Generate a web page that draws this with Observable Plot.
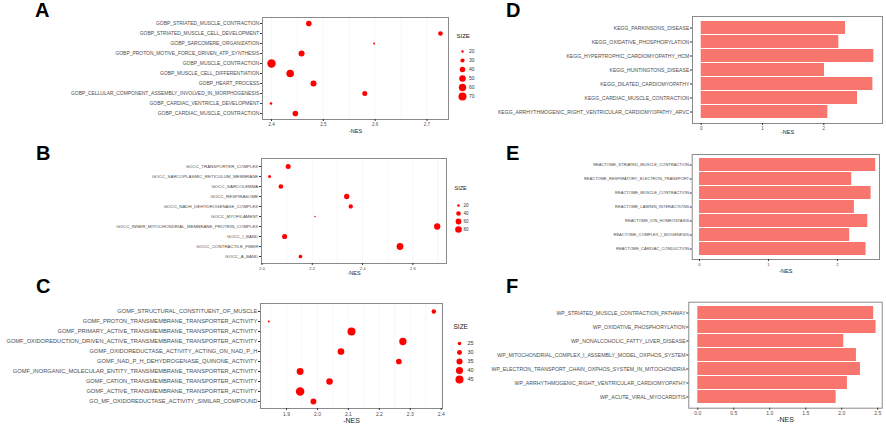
<!DOCTYPE html>
<html><head><meta charset="utf-8">
<script src="https://cdn.jsdelivr.net/npm/d3@7"></script>
<script src="https://cdn.jsdelivr.net/npm/@observablehq/plot@0.6"></script>
<style>
html,body{margin:0;padding:0;background:#fff;width:886px;height:426px;overflow:hidden;}
#root{position:relative;width:886px;height:426px;}
.pl{position:absolute;}
.lt{position:absolute;font:bold 20px "Liberation Sans",Arial,sans-serif;line-height:20px;color:#000;}
</style></head>
<body><div id="root"></div>
<script>
// ---------- DATA ----------
const aTerms = ["GOBP_STRIATED_MUSCLE_CONTRACTION","GOBP_STRIATED_MUSCLE_CELL_DEVELOPMENT","GOBP_SARCOMERE_ORGANIZATION","GOBP_PROTON_MOTIVE_FORCE_DRIVEN_ATP_SYNTHESIS","GOBP_MUSCLE_CONTRACTION","GOBP_MUSCLE_CELL_DIFFERENTIATION","GOBP_HEART_PROCESS","GOBP_CELLULAR_COMPONENT_ASSEMBLY_INVOLVED_IN_MORPHOGENESIS","GOBP_CARDIAC_VENTRICLE_DEVELOPMENT","GOBP_CARDIAC_MUSCLE_CONTRACTION"];
const aNes = [2.472, 2.726, 2.598, 2.458, 2.400, 2.436, 2.481, 2.580, 2.399, 2.446];
const aSize = [41, 33, 18, 45, 77, 64, 45, 36, 21, 41];
const aLegend = [20, 30, 40, 50, 60, 70];
const aTicks = [2.4, 2.5, 2.6, 2.7];

const bTerms = ["GOCC_TRANSPORTER_COMPLEX","GOCC_SARCOPLASMIC_RETICULUM_MEMBRANE","GOCC_SARCOLEMMA","GOCC_RESPIRASOME","GOCC_NADH_DEHYDROGENASE_COMPLEX","GOCC_MYOFILAMENT","GOCC_INNER_MITOCHONDRIAL_MEMBRANE_PROTEIN_COMPLEX","GOCC_I_BAND","GOCC_CONTRACTILE_FIBER","GOCC_A_BAND"];
const bNes = [2.104, 2.030, 2.075, 2.337, 2.353, 2.211, 2.697, 2.090, 2.549, 2.153];
const bSize = [46, 23, 41, 51, 36, 14, 72, 48, 85, 29];
const bLegend = [20, 40, 60, 80];
const bTicks = [2.0, 2.2, 2.4, 2.6];

const cTerms = ["GOMF_STRUCTURAL_CONSTITUENT_OF_MUSCLE","GOMF_PROTON_TRANSMEMBRANE_TRANSPORTER_ACTIVITY","GOMF_PRIMARY_ACTIVE_TRANSMEMBRANE_TRANSPORTER_ACTIVITY","GOMF_OXIDOREDUCTION_DRIVEN_ACTIVE_TRANSMEMBRANE_TRANSPORTER_ACTIVITY","GOMF_OXIDOREDUCTASE_ACTIVITY_ACTING_ON_NAD_P_H","GOMF_NAD_P_H_DEHYDROGENASE_QUINONE_ACTIVITY","GOMF_INORGANIC_MOLECULAR_ENTITY_TRANSMEMBRANE_TRANSPORTER_ACTIVITY","GOMF_CATION_TRANSMEMBRANE_TRANSPORTER_ACTIVITY","GOMF_ACTIVE_TRANSMEMBRANE_TRANSPORTER_ACTIVITY","GO_MF_OXIDOREDUCTASE_ACTIVITY_SIMILAR_COMPOUND"];
const cNes = [2.376, 1.843, 2.110, 2.276, 2.076, 2.263, 1.944, 2.039, 1.944, 1.987];
const cSize = [28, 20, 45, 41, 38, 33, 39, 37, 48, 34];
const cLegend = [25, 30, 35, 40, 45];
const cTicks = [1.9, 2.0, 2.1, 2.2, 2.3, 2.4];

const dTerms = ["KEGG_PARKINSONS_DISEASE","KEGG_OXIDATIVE_PHOSPHORYLATION","KEGG_HYPERTROPHIC_CARDIOMYOPATHY_HCM","KEGG_HUNTINGTONS_DISEASE","KEGG_DILATED_CARDIOMYOPATHY","KEGG_CARDIAC_MUSCLE_CONTRACTION","KEGG_ARRHYTHMOGENIC_RIGHT_VENTRICULAR_CARDIOMYOPATHY_ARVC"];
const dNes = [2.354, 2.245, 2.816, 2.011, 2.800, 2.550, 2.066];
const dTicks = [0, 1, 2];

const eTerms = ["REACTOME_STRIATED_MUSCLE_CONTRACTION","REACTOME_RESPIRATORY_ELECTRON_TRANSPORT","REACTOME_MUSCLE_CONTRACTION","REACTOME_LAMININ_INTERACTIONS","REACTOME_ION_HOMEOSTASIS","REACTOME_COMPLEX_I_BIOGENESIS","REACTOME_CARDIAC_CONDUCTION"];
const eNes = [2.555, 2.207, 2.488, 2.246, 2.440, 2.178, 2.415];
const eTicks = [0, 1, 2];

const fTerms = ["WP_STRIATED_MUSCLE_CONTRACTION_PATHWAY","WP_OXIDATIVE_PHOSPHORYLATION","WP_NONALCOHOLIC_FATTY_LIVER_DISEASE","WP_MITOCHONDRIAL_COMPLEX_I_ASSEMBLY_MODEL_OXPHOS_SYSTEM","WP_ELECTRON_TRANSPORT_CHAIN_OXPHOS_SYSTEM_IN_MITOCHONDRIA","WP_ARRHYTHMOGENIC_RIGHT_VENTRICULAR_CARDIOMYOPATHY","WP_ACUTE_VIRAL_MYOCARDITIS"];
const fNes = [2.444, 2.477, 2.028, 2.204, 2.260, 2.079, 1.922];
const fTicks = [0, 0.5, 1.0, 1.5, 2.0, 2.5];

const panelLetters = ["A", "B", "C", "D", "E", "F"];
const xTitle = "-NES";
const legendTitle = "SIZE";

// ---------- HELPERS ----------
const root = document.getElementById("root");
const FONT = '"Liberation Sans", Arial, sans-serif';
const TXT = "#4d4d4d";

function place(node, left, top) {
  const d = document.createElement("div");
  d.className = "pl";
  d.style.left = left + "px";
  d.style.top = top + "px";
  d.appendChild(node);
  root.appendChild(d);
}

function gridVals(ticks) {
  const step = ticks[1] - ticks[0];
  const out = [];
  ticks.forEach(t => { out.push(t); out.push(t - step / 2); });
  out.push(ticks[ticks.length - 1] + step / 2);
  return out;
}

function dotPanel(o) {
  const data = o.terms.map((t, i) => ({term: t, nes: o.nes[i], size: o.size[i]}));
  const p = Plot.plot({
    width: o.width, height: o.height,
    marginLeft: o.ml, marginRight: o.mr, marginTop: o.mt, marginBottom: o.mb,
    style: {fontFamily: FONT, background: "none", color: TXT, overflow: "visible"},
    x: {domain: o.xDomain},
    y: {type: "point", domain: o.terms, padding: 0.6},
    r: {type: "log", domain: o.rDomain, range: o.rRange},
    marks: [
      Plot.ruleX(gridVals(o.ticks).filter(v => v > o.xDomain[0] && v < o.xDomain[1]), {stroke: "#f2f2f2", strokeWidth: 0.6}),
      Plot.frame({stroke: "#8a8a8a", strokeWidth: 1}),
      Plot.axisX({ticks: o.ticks, tickFormat: o.fmt, tickSize: 2, tickPadding: 1.5, fontSize: o.xfs, label: null, stroke: "#333"}),
      Plot.axisY({tickSize: 2, tickPadding: 1.2, fontSize: o.yfs, label: null, stroke: "#333"}),
      Plot.text([xTitle], {frameAnchor: "bottom", dy: o.titleDy, fontSize: o.tfs, fill: "#222"}),
      Plot.dot(data, {x: "nes", y: "term", r: "size", fill: "#ff0000", stroke: "none"})
    ]
  });
  place(p, o.left, o.top);
}

function legend(o) {
  const p = Plot.plot({
    width: 2 * (o.cx - o.left), height: o.height,
    marginLeft: 0, marginRight: 0, marginTop: 0, marginBottom: 0,
    style: {fontFamily: FONT, background: "none", color: TXT, overflow: "visible"},
    y: {type: "point", domain: o.items, range: [o.y0 - o.top, o.y1 - o.top], axis: null},
    r: {type: "log", domain: o.rDomain, range: o.rRange},
    marks: [
      Plot.dot(o.items, {y: d => d, r: d => d, fill: "#ff0000", stroke: "none"}),
      Plot.text(o.items, {y: d => d, text: d => String(d), dx: o.labelDx, textAnchor: "start", fontSize: o.fs, fill: "#333"}),
      Plot.text([legendTitle], {frameAnchor: "top-left", dx: o.titleX - o.left, dy: o.titleY - o.top, textAnchor: "start", fontSize: o.tfs, fill: "#222"})
    ]
  });
  place(p, o.left, o.top);
}

function barPanel(o) {
  const data = o.terms.map((t, i) => ({term: t, nes: o.nes[i]}));
  const p = Plot.plot({
    width: o.width, height: o.height,
    marginLeft: o.ml, marginRight: o.mr, marginTop: o.mt, marginBottom: o.mb,
    style: {fontFamily: FONT, background: "none", color: TXT, overflow: "visible"},
    x: {domain: o.xDomain},
    y: {type: "band", domain: o.terms, paddingInner: 0.1, paddingOuter: 0.15},
    marks: [
      Plot.barX(data, {x: "nes", y: "term", fill: "#F8766D"}),
      Plot.frame({stroke: "#8a8a8a", strokeWidth: 1}),
      Plot.axisX({ticks: o.ticks, tickFormat: o.fmt, tickSize: 2, tickPadding: 1.5, fontSize: o.xfs, label: null, stroke: "#333"}),
      Plot.axisY({tickSize: 2, tickPadding: 1.2, fontSize: o.yfs, label: null, stroke: "#333"}),
      Plot.text([xTitle], {frameAnchor: "bottom", dy: o.titleDy, fontSize: o.tfs, fill: "#222"})
    ]
  });
  place(p, o.left, o.top);
}

// ---------- PANELS ----------
dotPanel({terms: aTerms, nes: aNes, size: aSize, ticks: aTicks, fmt: ".1f",
  left: 0, top: 0, width: 450, height: 140, ml: 262, mr: 2, mt: 17, mb: 21,
  xDomain: [2.3826, 2.7415], rDomain: [20, 70], rRange: [1.2, 4.0],
  xfs: 4.5, yfs: 4.95, tfs: 5.5, titleDy: 13});
legend({items: aLegend, left: 450, top: 25, height: 85, cx: 462, y0: 45, y1: 102,
  labelDx: 6.5, fs: 5, tfs: 6, titleX: 456, titleY: 33, rDomain: [20, 70], rRange: [1.2, 4.0]});

dotPanel({terms: bTerms, nes: bNes, size: bSize, ticks: bTicks, fmt: ".1f",
  left: 0, top: 140, width: 450, height: 140, ml: 261, mr: 4, mt: 18, mb: 17,
  xDomain: [1.998, 2.734], rDomain: [20, 80], rRange: [1.3, 3.3],
  xfs: 4.2, yfs: 4.4, tfs: 5.5, titleDy: 11});
legend({items: bLegend, left: 445, top: 190, height: 50, cx: 458, y0: 199, y1: 234,
  labelDx: 5, fs: 4.5, tfs: 5.5, titleX: 454, titleY: 186, rDomain: [20, 80], rRange: [1.3, 3.3]});

dotPanel({terms: cTerms, nes: cNes, size: cSize, ticks: cTicks, fmt: ".1f",
  left: 0, top: 280, width: 450, height: 146, ml: 260, mr: 8, mt: 23, mb: 18,
  xDomain: [1.816, 2.404], rDomain: [25, 45], rRange: [1.8, 4.0],
  xfs: 5, yfs: 5.7, tfs: 7, titleDy: 14});
legend({items: cLegend, left: 445, top: 330, height: 60, cx: 459, y0: 337, y1: 384,
  labelDx: 8, fs: 5.5, tfs: 6.5, titleX: 453, titleY: 324, rDomain: [25, 45], rRange: [1.8, 4.0]});

barPanel({terms: dTerms, nes: dNes, ticks: dTicks, fmt: "d",
  left: 480, top: 0, width: 406, height: 140, ml: 212, mr: 4, mt: 16, mb: 17,
  xDomain: [-0.142, 2.957], xfs: 4.5, yfs: 5.1, tfs: 5.5, titleDy: 10});

barPanel({terms: eTerms, nes: eNes, ticks: eTicks, fmt: "d",
  left: 480, top: 140, width: 406, height: 140, ml: 211.7, mr: 7, mt: 14, mb: 21,
  xDomain: [-0.106, 2.61], xfs: 4.2, yfs: 4.05, tfs: 5.5, titleDy: 13});

barPanel({terms: fTerms, nes: fNes, ticks: fTicks, fmt: ".1f",
  left: 480, top: 280, width: 406, height: 146, ml: 208.3, mr: 4.3, mt: 21.7, mb: 18.3,
  xDomain: [-0.125, 2.562], xfs: 5, yfs: 5.2, tfs: 7, titleDy: 14});

// ---------- PANEL LETTERS ----------
const letterPos = [[35, 0], [36, 143], [36, 276], [506, 0], [506, 143], [506, 276]];
panelLetters.forEach((L, i) => {
  const d = document.createElement("div");
  d.className = "lt";
  d.textContent = L;
  d.style.left = letterPos[i][0] + "px";
  d.style.top = letterPos[i][1] + "px";
  root.appendChild(d);
});
</script>
</body></html>
